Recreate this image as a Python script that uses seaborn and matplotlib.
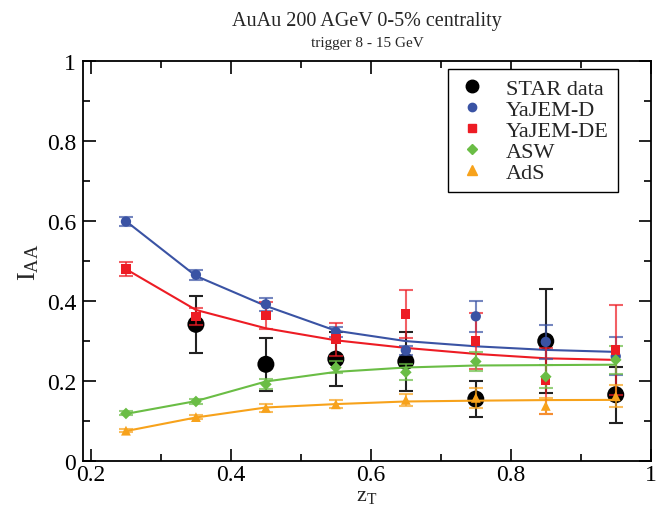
import numpy as np
import seaborn as sns
import matplotlib.pyplot as plt
from matplotlib.lines import Line2D
from matplotlib.ticker import MultipleLocator, FormatStrFormatter

# z_T bins
z = [0.25, 0.35, 0.45, 0.55, 0.65, 0.75, 0.85, 0.95]
z_star = [0.35, 0.45, 0.55, 0.65, 0.75, 0.85, 0.95]

# STAR data
star_y = [0.342, 0.242, 0.255, 0.249, 0.155, 0.300, 0.166]
star_err = [0.072, 0.067, 0.067, 0.074, 0.046, 0.130, 0.070]

# YaJEM-D
yajem_d_y = [0.599, 0.466, 0.392, 0.323, 0.277, 0.362, 0.298, 0.262]
yajem_d_err = [0.011, 0.013, 0.016, 0.012, 0.012, 0.038, 0.042, 0.048]
yajem_d_curve = [0.600, 0.463, 0.388, 0.326, 0.300, 0.287, 0.278, 0.273]

# YaJEM-DE
yajem_de_y = [0.480, 0.362, 0.364, 0.305, 0.368, 0.300, 0.201, 0.278]
yajem_de_err = [0.017, 0.021, 0.033, 0.041, 0.060, 0.070, 0.083, 0.112]
yajem_de_curve = [0.480, 0.378, 0.332, 0.302, 0.283, 0.268, 0.257, 0.253]

# ASW
asw_y = [0.119, 0.149, 0.192, 0.234, 0.222, 0.249, 0.211, 0.253]
asw_err = [0.005, 0.006, 0.012, 0.015, 0.020, 0.023, 0.028, 0.036]
asw_curve = [0.118, 0.150, 0.199, 0.223, 0.234, 0.239, 0.240, 0.241]

# AdS
ads_y = [0.076, 0.110, 0.133, 0.142, 0.153, 0.158, 0.138, 0.162]
ads_err = [0.004, 0.006, 0.010, 0.010, 0.015, 0.025, 0.020, 0.028]
ads_curve = [0.075, 0.109, 0.134, 0.1425, 0.149, 0.151, 0.1525, 0.153]

sns.set_style("ticks")
plt.rcParams['font.family'] = ['Liberation Serif', 'DejaVu Serif']
plt.rcParams['mathtext.fontset'] = 'custom'
plt.rcParams['mathtext.rm'] = 'Liberation Serif'

blue = '#3a53a4'
red = '#ed1c24'
green = '#6abd45'
orange = '#f7a21b'

fig = plt.figure(figsize=(6.64, 5.10), dpi=100)
ax = fig.add_axes([0.125, 0.094, 0.855, 0.784])

# STAR data at the bottom
ax.errorbar(z_star, star_y, yerr=star_err, fmt='none', ecolor='#222222',
            elinewidth=1.5, capsize=5, capthick=1.5, zorder=2)
sns.scatterplot(x=z_star, y=star_y, color='black', s=150, marker='o',
                edgecolor='none', ax=ax, zorder=3)

models = [
    (yajem_d_y, yajem_d_err, yajem_d_curve, blue, 'o', 55),
    (yajem_de_y, yajem_de_err, yajem_de_curve, red, 's', 45),
    (asw_y, asw_err, asw_curve, green, 'D', 35),
    (ads_y, ads_err, ads_curve, orange, '^', 50),
]
for vals, err, curve, col, mk, sz in models:
    sns.lineplot(x=z, y=curve, color=col, linewidth=1.5, ax=ax, zorder=4,
                 legend=False)
    ax.errorbar(z, vals, yerr=err, fmt='none', ecolor=col, alpha=0.7,
                elinewidth=1.5, capsize=5, capthick=1.5, zorder=5)
    sns.scatterplot(x=z, y=vals, color=col, marker=mk, s=sz, edgecolor='none',
                    ax=ax, zorder=6)

ax.set_xlim(0.1886, 1.0)
ax.set_ylim(0, 1)
ax.xaxis.set_major_locator(MultipleLocator(0.2))
ax.xaxis.set_minor_locator(MultipleLocator(0.1))
ax.yaxis.set_major_locator(MultipleLocator(0.2))
ax.yaxis.set_minor_locator(MultipleLocator(0.1))
ax.xaxis.set_major_formatter(FormatStrFormatter('%g'))
ax.yaxis.set_major_formatter(FormatStrFormatter('%g'))
ax.tick_params(which='both', direction='in', top=True, right=True,
               labelsize=17, width=1.2, colors='black')
ax.tick_params(axis='y', pad=5)
ax.tick_params(axis='x', pad=2)
ax.tick_params(which='major', length=9)
ax.tick_params(which='minor', length=5)
for sp in ax.spines.values():
    sp.set_linewidth(1.3)
    sp.set_color('black')

ax.set_xlabel(r'$\mathregular{z_T}$', fontsize=16, labelpad=1)
ax.set_ylabel(r'$\mathregular{I_{AA}}$', fontsize=19, labelpad=4)

fig.text(0.553, 0.958, 'AuAu 200 AGeV 0-5% centrality', ha='center',
         va='center', fontsize=14.5)
fig.text(0.553, 0.914, 'trigger 8 - 15 GeV', ha='center', va='center',
         fontsize=11)

handles = [
    Line2D([], [], ls='none', marker='o', color='black', markersize=9),
    Line2D([], [], ls='none', marker='o', color=blue, markersize=6),
    Line2D([], [], ls='none', marker='s', color=red, markersize=5.5),
    Line2D([], [], ls='none', marker='D', color=green, markersize=5),
    Line2D([], [], ls='none', marker='^', color=orange, markersize=6.5),
]
labels = ['STAR data', 'YaJEM-D', 'YaJEM-DE', 'ASW', 'AdS']
leg = ax.legend(handles, labels, loc='upper right',
                bbox_to_anchor=(0.942, 0.98), fontsize=16, frameon=True,
                fancybox=False, edgecolor='black', framealpha=1,
                labelspacing=0.02, handletextpad=0.9, handlelength=1.3,
                borderpad=0.4, borderaxespad=0)
leg.get_frame().set_linewidth(1.0)

fig.savefig('out.png', dpi=100)
